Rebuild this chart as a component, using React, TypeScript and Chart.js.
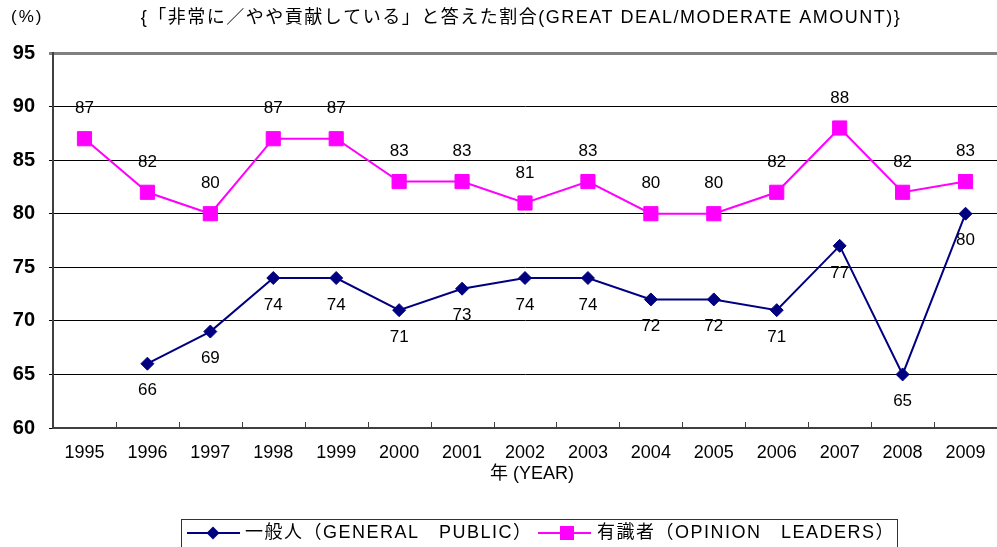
import React, { useEffect, useRef } from "react";
import { Chart, registerables } from "chart.js";

Chart.register(...registerables);

const years = ["1995", "1996", "1997", "1998", "1999", "2000", "2001", "2002", "2003", "2004", "2005", "2006", "2007", "2008", "2009"];
const generalPublic: (number | null)[] = [null, 66, 69, 74, 74, 71, 73, 74, 74, 72, 72, 71, 77, 65, 80];
const opinionLeaders: number[] = [87, 82, 80, 87, 87, 83, 83, 81, 83, 80, 80, 82, 88, 82, 83];
const yTicks = [60, 65, 70, 75, 80, 85, 90, 95];

const titleText = "{「非常に／やや貢献している」と答えた割合(GREAT DEAL/MODERATE AMOUNT)}";
const unitText = "(%)";
const xTitleText = "年 (YEAR)";
const legendGeneral = "一般人（GENERAL　PUBLIC）";
const legendLeaders = "有識者（OPINION　LEADERS）";

const NAVY = "#000080";
const MAGENTA = "#FF00FF";
const FONT = '"Liberation Sans", Arial, "Noto Sans CJK JP", sans-serif';

const extrasPlugin = {
  id: "extras",
  afterDatasetsDraw(chart: any) {
    const ctx = chart.ctx as CanvasRenderingContext2D;
    const area = chart.chartArea;
    const xs = chart.scales.x;
    ctx.save();
    // inner tick marks on x axis at category boundaries
    ctx.strokeStyle = "#404040";
    ctx.lineWidth = 1;
    for (let i = 0; i < years.length - 1; i++) {
      const bx = Math.round((xs.getPixelForValue(i) + xs.getPixelForValue(i + 1)) / 2) + 0.5;
      ctx.beginPath();
      ctx.moveTo(bx, area.bottom);
      ctx.lineTo(bx, area.bottom - 6);
      ctx.stroke();
    }
    // data labels
    ctx.fillStyle = "#000";
    ctx.font = `17px ${FONT}`;
    ctx.textAlign = "center";
    ctx.textBaseline = "middle";
    const metaG = chart.getDatasetMeta(0);
    metaG.data.forEach((pt: any, i: number) => {
      const v = generalPublic[i];
      if (v == null) return;
      ctx.fillText(String(v), pt.x, pt.y + 27);
    });
    const metaL = chart.getDatasetMeta(1);
    metaL.data.forEach((pt: any, i: number) => {
      ctx.fillText(String(opinionLeaders[i]), pt.x, pt.y - 30);
    });
    ctx.restore();
  },
  afterDraw(chart: any) {
    const ctx = chart.ctx as CanvasRenderingContext2D;
    ctx.save();
    ctx.fillStyle = "#000";
    ctx.textBaseline = "middle";
    // unit
    (ctx as any).letterSpacing = "2px";
    ctx.font = `17px ${FONT}`;
    ctx.textAlign = "left";
    ctx.fillText(unitText, 11, 17);
    // title
    (ctx as any).letterSpacing = "1.5px";
    ctx.font = `18px ${FONT}`;
    ctx.textAlign = "center";
    ctx.fillText(titleText, 521, 18);
    // x title
    (ctx as any).letterSpacing = "0px";
    ctx.font = `18px ${FONT}`;
    ctx.fillText(xTitleText, 532, 474);
    // legend box
    ctx.strokeStyle = "#333";
    ctx.lineWidth = 1;
    ctx.strokeRect(181.5, 519.5, 716, 40);
    const ly = 533;
    // general
    ctx.strokeStyle = NAVY;
    ctx.lineWidth = 2;
    ctx.beginPath();
    ctx.moveTo(187, ly);
    ctx.lineTo(240, ly);
    ctx.stroke();
    ctx.fillStyle = NAVY;
    ctx.beginPath();
    ctx.moveTo(213, ly - 6.5);
    ctx.lineTo(219.5, ly);
    ctx.lineTo(213, ly + 6.5);
    ctx.lineTo(206.5, ly);
    ctx.closePath();
    ctx.fill();
    // leaders
    ctx.strokeStyle = MAGENTA;
    ctx.beginPath();
    ctx.moveTo(538, ly);
    ctx.lineTo(591, ly);
    ctx.stroke();
    ctx.fillStyle = MAGENTA;
    ctx.fillRect(560, ly - 7, 14, 14);
    // legend texts
    ctx.fillStyle = "#000";
    (ctx as any).letterSpacing = "1.5px";
    ctx.font = `18px ${FONT}`;
    ctx.textAlign = "left";
    ctx.fillText(legendGeneral, 245, ly);
    ctx.fillText(legendLeaders, 597, ly);
    ctx.restore();
  },
};

export default function App() {
  const ref = useRef<HTMLCanvasElement | null>(null);
  useEffect(() => {
    if (!ref.current) return;
    const chart = new Chart(ref.current, {
      type: "line",
      data: {
        labels: years,
        datasets: [
          {
            label: legendGeneral,
            data: generalPublic,
            borderColor: NAVY,
            backgroundColor: NAVY,
            borderWidth: 2,
            pointStyle: "rectRot",
            pointRadius: 6.5,
            pointBorderWidth: 1,
            tension: 0,
            spanGaps: false,
          },
          {
            label: legendLeaders,
            data: opinionLeaders,
            borderColor: MAGENTA,
            backgroundColor: MAGENTA,
            borderWidth: 2,
            pointStyle: "rect",
            pointRadius: 10,
            pointBorderWidth: 1,
            tension: 0,
          },
        ],
      },
      options: {
        responsive: false,
        animation: false,
        events: [],
        layout: { autoPadding: false, padding: { top: 53, left: 0, right: 0, bottom: 0 } },
        plugins: {
          legend: { display: false },
          title: { display: false },
          tooltip: { enabled: false },
        },
        scales: {
          x: {
            offset: true,
            grid: { display: false, drawTicks: false },
            border: { display: true, color: "#404040", width: 2 },
            ticks: {
              color: "#000",
              font: { family: FONT, size: 18 },
              padding: 14,
              maxRotation: 0,
              autoSkip: false,
            },
            afterFit(scale: any) {
              scale.height = 119;
              scale.paddingLeft = 0;
              scale.paddingRight = 0;
            },
          },
          y: {
            min: 60,
            max: 95,
            afterBuildTicks(scale: any) {
              scale.ticks = yTicks.map((v) => ({ value: v }));
            },
            grid: {
              color: (c: any) => (c.tick && c.tick.value === 95 ? "#808080" : "#000"),
              lineWidth: (c: any) => (c.tick && c.tick.value === 95 ? 3 : 1),
              tickLength: 4,
            },
            border: { display: true, color: "#404040", width: 2 },
            ticks: {
              color: "#000",
              font: { family: FONT, size: 20, weight: "bold" },
              padding: 14,
            },
            afterFit(scale: any) {
              scale.width = 53;
            },
          },
        },
      },
      plugins: [extrasPlugin],
    });
    return () => chart.destroy();
  }, []);
  return (
    <div style={{ position: "fixed", left: 0, top: 0, width: 997, height: 547, background: "#fff" }}>
      <canvas ref={ref} width={997} height={547} style={{ display: "block" }} />
    </div>
  );
}
